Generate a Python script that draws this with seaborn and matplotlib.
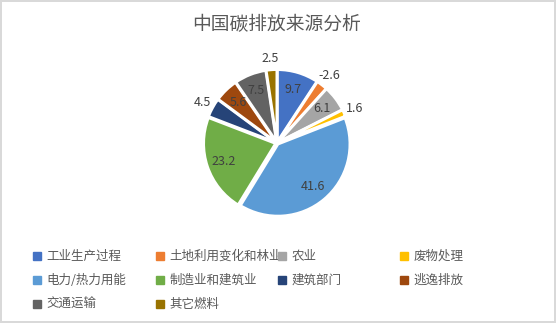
import numpy as np
import matplotlib
matplotlib.use("Agg")
import matplotlib.pyplot as plt
import seaborn as sns

categories = ["工业生产过程", "土地利用变化和林业", "农业", "废物处理", "电力/热力用能",
              "制造业和建筑业", "建筑部门", "逃逸排放", "交通运输", "其它燃料"]
values = [9.7, -2.6, 6.1, 1.6, 41.6, 23.2, 4.5, 5.6, 7.5, 2.5]
colors = ["#4472C4", "#ED7D31", "#A5A5A5", "#FFC000", "#5B9BD5",
          "#70AD47", "#264478", "#9E480E", "#636363", "#997300"]
title = "中国碳排放来源分析"

sns.set_theme(style="white")
plt.rcParams["font.family"] = ["Noto Sans CJK SC", "DejaVu Sans"]

W, H = 556, 323
fig = plt.figure(figsize=(W / 100, H / 100), dpi=100)
fig.patch.set_edgecolor("#D9D9D9")
fig.patch.set_linewidth(1.5)

# pie axes: centre (277, 143) px, radius 71 px
cx, cy, r, half = 277, 143, 71, 90
ax = fig.add_axes([(cx - half) / W, (H - cy - half) / H, 2 * half / W, 2 * half / H])
lim = half / r
ax.set_xlim(-lim, lim)
ax.set_ylim(-lim, lim)
ax.set_aspect("equal")
ax.axis("off")

sizes = np.abs(values)
wedges, _ = ax.pie(sizes, colors=colors, startangle=90, counterclock=False,
                   explode=[0.02] * len(values),
                   wedgeprops=dict(edgecolor="white", linewidth=2))

for w, v in zip(wedges, values):
    ang = np.deg2rad((w.theta1 + w.theta2) / 2)
    d = 0.78 if abs(v) >= 5 else 1.18
    ax.text(d * np.cos(ang), d * np.sin(ang), f"{v:g}", ha="center", va="center",
            fontsize=9, color="#404040")

fig.text(277 / W, 1 - 25 / H, title, ha="center", va="center", fontsize=13.5, color="#595959")

# legend: four fixed-width columns, row-major order
col_x = [33, 156, 278, 400]
for k in range(4):
    idx = list(range(k, len(categories), 4))
    handles = [plt.Rectangle((0, 0), 1, 1, color=colors[i]) for i in idx]
    leg = fig.legend(handles, [categories[i] for i in idx], loc="upper left",
                     bbox_to_anchor=(col_x[k] / W, 1 - 250 / H), frameon=False,
                     fontsize=9, handlelength=0.6, handleheight=0.6, handletextpad=0.5,
                     labelspacing=0.88, borderaxespad=0, borderpad=0)
    for t in leg.get_texts():
        t.set_color("#595959")

fig.savefig("out.png", dpi=100)
